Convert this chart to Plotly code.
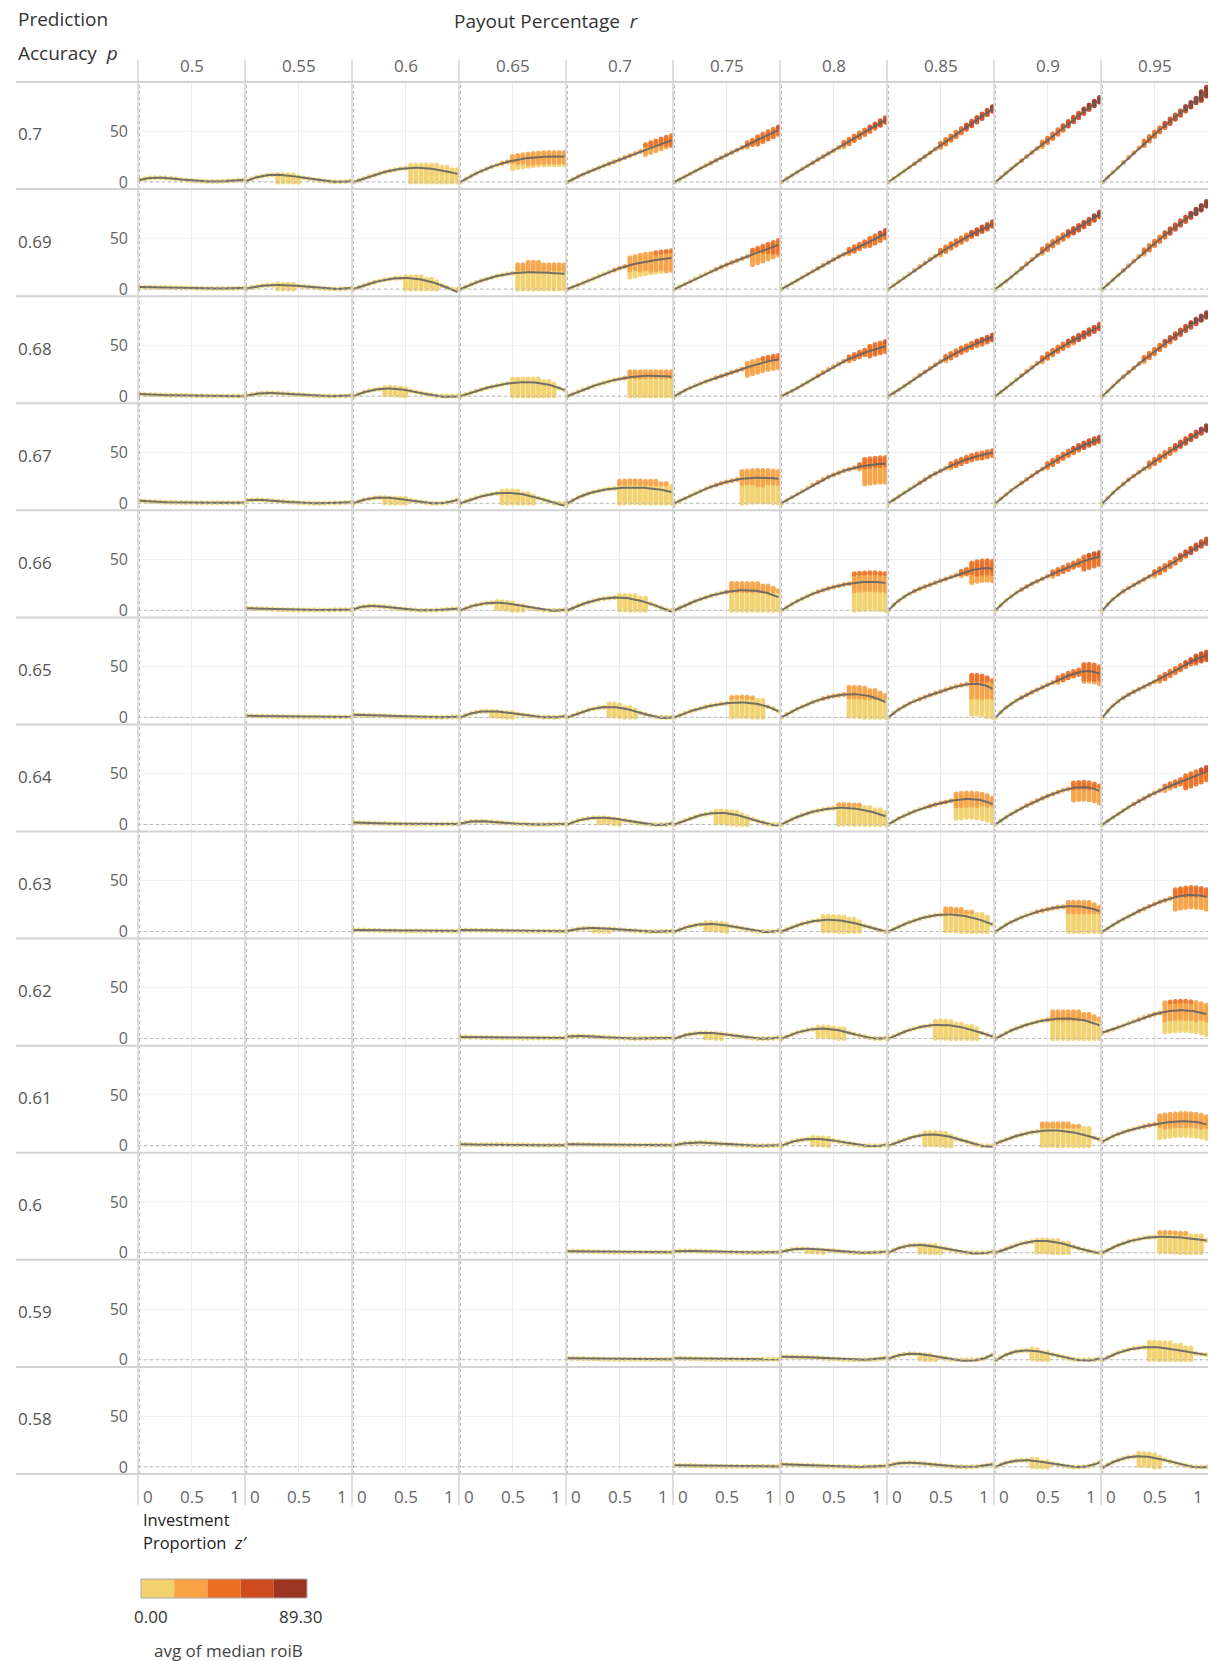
import numpy as np
import plotly.graph_objects as go
from plotly.subplots import make_subplots

# ---------------------------------------------------------------------------
# Facet layout: rows = prediction accuracy p, columns = payout percentage r
# ---------------------------------------------------------------------------
P_LABELS = ["0.7", "0.69", "0.68", "0.67", "0.66", "0.65", "0.64",
            "0.63", "0.62", "0.61", "0.6", "0.59", "0.58"]
R_LABELS = ["0.5", "0.55", "0.6", "0.65", "0.7", "0.75", "0.8", "0.85", "0.9", "0.95"]

# investment proportion z' at which the simulations were evaluated
Z_STEPS = [0.0, 0.05, 0.1, 0.15, 0.2, 0.25, 0.3, 0.35, 0.4, 0.45, 0.5,
           0.55, 0.6, 0.65, 0.7, 0.75, 0.8, 0.85, 0.9, 0.95, 1.0]
# knots of the trend curve (median roiB) in each panel
Z_KNOTS = [0.0, 0.25, 0.5, 0.75, 1.0]

# trend values at Z_KNOTS, one entry per r (None = no simulation for that pair)
TREND_070 = [[2, 4, 1.5, 0.5, 2], [1, 7, 5, 1, 1], [0, 8.5, 13.5, 13, 8], [0, 13, 21, 24.5, 25],
             [0, 12, 22, 32, 41], [0, 13.5, 26.5, 39, 51], [0, 16, 31, 46, 61],
             [0, 18, 36, 54, 72], [0, 21, 41, 61.5, 81], [0, 24, 47, 68, 89]]
TREND_069 = [[2, 1.5, 1, 0.5, 1], [0.5, 4, 3, 0.5, 1], [0, 8, 11, 7, -3], [0, 10, 15.5, 16.5, 15],
             [0, 10.5, 20.5, 27, 30.5], [0, 12.5, 24, 34, 43.5], [0, 14.5, 29, 42, 54.5],
             [0, 18.5, 36, 51, 64], [0, 20.5, 41, 57.5, 73.5], [0, 23, 45, 65, 84]]
TREND_068 = [[2, 1, 0.5, 0, 0], [0.5, 3, 1.5, 0, 0.5], [0, 7, 6, 1, 0], [0, 8, 13, 13, 6],
             [0, 10, 17, 20, 19], [0, 12.5, 21.5, 30, 36], [0, 14, 29, 41, 49],
             [0, 17, 34, 47.5, 58.5], [0, 20.5, 39.5, 55, 68.5], [0, 23.5, 44, 63, 80]]
TREND_067 = [[2.5, 1, 0.5, 0.5, 0.5], [3, 2.5, 0.5, 0, 1], [0, 5.5, 3.5, 0, 3.5], [0, 8, 10, 5, -2.5],
             [0, 11, 15, 15, 11], [0, 12, 21, 25, 24], [0, 15, 28, 36, 39],
             [0, 17, 32, 43, 50], [0, 20, 37, 52, 63], [0, 23, 41, 58, 74]]
TREND_066 = [None, [2, 1, 0.3, 0.3, 0.5], [1, 4, 1, 0, 1.5], [0, 7, 6, 1, 0.5],
             [0, 9.5, 12.5, 8, -1.5], [0, 11, 18, 19.5, 13], [0, 14, 23, 27.5, 27],
             [0, 19, 29, 38, 41], [0, 20.5, 33.5, 44.5, 53], [0, 22, 36, 52, 68]]
TREND_065 = [None, [1.5, 1, 0.5, 0.3, 0.3], [2.5, 1.5, 0.5, 0, 0.5], [0, 6, 4, 0.5, 1],
             [0, 8.5, 9.5, 3, 0], [0, 9, 14, 14, 6], [0, 13, 21, 22.5, 15],
             [0, 16, 25.5, 32.5, 28], [0, 19.5, 32, 43, 43], [0, 22.5, 35, 49, 61]]
TREND_064 = [None, None, [2, 1, 0.5, 0.3, 0.5], [1, 3, 1, 0, 0.5],
             [0, 6.5, 5, 0.5, 1], [0, 9, 11, 5, -1], [0, 11, 16, 15, 8],
             [0, 13, 21, 25, 20], [0, 16, 28, 36, 33], [0, 17, 31, 42, 52]]
TREND_063 = [None, None, [1.5, 1, 0.5, 0.5, 0.5], [1.5, 1, 0.5, 0.3, 0.3],
             [0.5, 3.5, 2, 0, 0.5], [0, 7, 6, 1, 1], [0, 9, 11.5, 7, 0],
             [0, 11, 16.5, 15, 7], [0, 14, 22, 25, 20], [0, 15, 27, 35, 34]]
TREND_062 = [None, None, None, [1.5, 1, 0.5, 0.5, 0.5],
             [2, 2, 0.5, 0.3, 0.5], [0, 5.5, 4, 0.5, 1], [0, 8.5, 9, 3, 0.5],
             [0, 10, 13.5, 10, 2], [0, 12, 18.5, 19.5, 13], [6, 15, 24, 28, 24]]
TREND_061 = [None, None, None, [1.5, 1, 1, 0.5, 0.5],
             [1.5, 1, 0.5, 0.5, 0.5], [0.5, 3, 1.5, 0, 0.5], [0, 6.5, 5, 0.5, 1],
             [0, 9, 10.5, 4, -1], [2, 11, 15, 13, 6], [4, 15, 21, 24, 21]]
TREND_060 = [None, None, None, None,
             [1.5, 1, 0.5, 0.5, 0.5], [1.5, 1.5, 0.5, 0.3, 0.5], [1, 4, 2, 0, 1],
             [0, 7.5, 5, 0, 1], [0, 9, 11.5, 6, 0], [0, 11, 15.5, 15, 12]]
TREND_059 = [None, None, None, None,
             [1.5, 1, 0.5, 0.5, 0.5], [1.5, 1, 0.5, 0.5, 0.5], [3, 2.5, 1, 0, 2],
             [1, 6, 2.5, -1, 5], [-1, 9, 6.5, 0.5, 1], [0, 10, 12.5, 9, 5]]
TREND_058 = [None, None, None, None, None,
             [1.5, 1, 0.5, 0.5, 0.5], [2.5, 1.5, 0.5, 0, 1],
             [1.5, 4, 1.5, 0, 2.5], [0, 6.5, 4, 0, 4.5], [-1, 9.5, 9, 2.5, 0]]

# dispersion of the simulated medians: [z' from, z' to, above trend, below trend]
SPREAD_070 = [None, [0.3, 0.5, 2, 8], [0.55, 1.0, 5, 16], [0.5, 1.0, 6, 8],
              [0.75, 1.0, 5, 5], [0.8, 1.0, 4, 4], None, None, None, None]
SPREAD_069 = [None, [0.3, 0.45, 2, 4], [0.5, 0.8, 3, 13], [0.55, 1.0, 10, 18],
              [0.6, 1.0, 8, 12], [0.75, 1.0, 5, 10], [0.85, 1.0, 4, 4], None, None, None]
SPREAD_068 = [None, None, [0.3, 0.5, 2, 6], [0.5, 0.9, 4, 14],
              [0.6, 1.0, 6, 20], [0.7, 1.0, 6, 8], [0.85, 1.0, 5, 5], [0.9, 1.0, 3, 3], None, None]
SPREAD_067 = [None, None, [0.3, 0.5, 2, 5], [0.4, 0.7, 3, 10],
              [0.5, 1.0, 8, 15], [0.65, 1.0, 9, 24], [0.8, 1.0, 6, 18], [0.9, 1.0, 3, 3], None, None]
SPREAD_066 = [None, None, None, [0.35, 0.6, 2, 6],
              [0.5, 0.75, 4, 12], [0.55, 1.0, 8, 20], [0.7, 1.0, 10, 27],
              [0.8, 1.0, 8, 12], [0.85, 1.0, 5, 8], None]
SPREAD_065 = [None, None, None, [0.3, 0.5, 2, 5],
              [0.4, 0.65, 3, 9], [0.55, 0.85, 6, 14], [0.65, 1.0, 8, 22],
              [0.8, 1.0, 10, 30], [0.85, 1.0, 8, 10], [0.9, 1.0, 4, 4]]
SPREAD_064 = [None, None, None, None,
              [0.3, 0.5, 2, 5], [0.4, 0.7, 3, 10], [0.55, 1.0, 5, 16],
              [0.65, 1.0, 8, 18], [0.75, 1.0, 6, 12], [0.8, 1.0, 6, 8]]
SPREAD_063 = [None, None, None, None,
              [0.25, 0.4, 1, 3], [0.3, 0.5, 2, 6], [0.4, 0.75, 4, 11],
              [0.55, 0.95, 6, 16], [0.7, 1.0, 6, 25], [0.7, 1.0, 8, 12]]
SPREAD_062 = [None, None, None, None,
              None, [0.3, 0.45, 1, 5], [0.35, 0.6, 3, 8],
              [0.45, 0.85, 4, 13], [0.55, 1.0, 8, 20], [0.6, 1.0, 10, 20]]
SPREAD_061 = [None, None, None, None,
              None, None, [0.3, 0.45, 2, 6],
              [0.35, 0.6, 3, 10], [0.45, 0.9, 8, 15], [0.55, 1.0, 8, 14]]
SPREAD_060 = [None, None, None, None,
              None, None, [0.25, 0.4, 1, 3],
              [0.3, 0.5, 2, 7], [0.4, 0.7, 3, 11], [0.55, 0.95, 5, 15]]
SPREAD_059 = [None, None, None, None,
              None, None, None,
              [0.3, 0.45, 1, 5], [0.35, 0.5, 2, 8], [0.45, 0.85, 6, 12]]
SPREAD_058 = [None, None, None, None,
              None, None, None,
              None, [0.35, 0.5, 2, 6], [0.35, 0.55, 3, 9]]

TREND_ROWS = [TREND_070, TREND_069, TREND_068, TREND_067, TREND_066, TREND_065, TREND_064,
              TREND_063, TREND_062, TREND_061, TREND_060, TREND_059, TREND_058]
SPREAD_ROWS = [SPREAD_070, SPREAD_069, SPREAD_068, SPREAD_067, SPREAD_066, SPREAD_065, SPREAD_064,
               SPREAD_063, SPREAD_062, SPREAD_061, SPREAD_060, SPREAD_059, SPREAD_058]

# colour legend: avg of median roiB, 5 stepped bins
ROI_MIN, ROI_MAX = 0.0, 89.30
STEP_COLORS = ["#F2D26E", "#F6A245", "#EC7024", "#CD4B1F", "#9C3622"]

N_ROWS, N_COLS = len(P_LABELS), len(R_LABELS)
W, H = 1210, 1661
PL, PR, PT, PB = 138, 2, 82, 187
PW, PH = W - PL - PR, H - PT - PB
X_RANGE = [-0.015, 1.015]
Y_RANGE = [-7, 98.5]
FONT = "Open Sans, Lato, DejaVu Sans, sans-serif"


def fx(px):
    return (px - PL) / PW


def fy(py):
    return 1 - (py - PT) / PH


def step_color(v):
    k = int((v - ROI_MIN) / (ROI_MAX - ROI_MIN) * len(STEP_COLORS))
    return STEP_COLORS[min(max(k, 0), len(STEP_COLORS) - 1)]


def axis_ref(letter, n):
    return letter if n == 1 else f"{letter}{n}"


fig = make_subplots(rows=N_ROWS, cols=N_COLS, horizontal_spacing=0, vertical_spacing=0)

z_fine = np.linspace(0, 1, 61)
for i in range(N_ROWS):
    for j in range(N_COLS):
        knots = TREND_ROWS[i][j]
        if knots is None:
            # keep the empty panel's axes and grid on screen
            fig.add_trace(go.Scatter(x=[None], y=[None], mode="markers", hoverinfo="skip",
                                     showlegend=False), row=i + 1, col=j + 1)
            continue
        coef = np.polyfit(Z_KNOTS, knots, 4)
        centers = np.polyval(coef, Z_STEPS)
        spread = SPREAD_ROWS[i][j]
        xs, ys = [], []
        for z, c in zip(Z_STEPS, centers):
            base = max(float(c), 0.0)
            if spread is not None and spread[0] - 1e-9 <= z <= spread[1] + 1e-9:
                lo = max(base - spread[3], 0.0)
                vals = np.arange(lo, base + spread[2] + 1e-6, 2.4)
            else:
                n = int((0.6 + 0.045 * base) // 2.2)
                vals = np.clip(base + 2.2 * np.arange(-n, n + 1), 0, None)
            xs.extend([z] * len(vals))
            ys.extend(vals.tolist())
        fig.add_trace(go.Scatter(
            x=xs, y=ys, mode="markers",
            marker=dict(size=5, color=[step_color(v) for v in ys], opacity=0.9, line=dict(width=0)),
            hoverinfo="skip", showlegend=False), row=i + 1, col=j + 1)
        fig.add_trace(go.Scatter(
            x=z_fine, y=np.polyval(coef, z_fine), mode="lines",
            line=dict(color="rgba(100,100,100,0.9)", width=2),
            hoverinfo="skip", showlegend=False), row=i + 1, col=j + 1)

fig.update_xaxes(range=X_RANGE, tickvals=[0.5], showticklabels=False, showgrid=True,
                 gridcolor="#ececec", gridwidth=1, zeroline=False, showline=False, ticks="")
fig.update_yaxes(range=Y_RANGE, tickvals=[0, 50], ticktext=["0", "50"], showticklabels=False,
                 showgrid=True, gridcolor="#f0f0f0", gridwidth=1, zeroline=False, showline=False, ticks="")
fig.update_yaxes(showticklabels=True, ticklabelstandoff=9,
                 tickfont=dict(family=FONT, size=16, color="#666666"), col=1)

shapes = []
# dotted zero lines: x = 0 in every column, y = 0 in every row
for j in range(N_COLS):
    shapes.append(dict(type="line", xref=axis_ref("x", j + 1), yref="paper", x0=0, x1=0, y0=0, y1=1,
                       line=dict(color="#b8b8b8", width=1, dash="dot")))
for i in range(N_ROWS):
    n = i * N_COLS + N_COLS
    shapes.append(dict(type="line", xref="paper", yref=axis_ref("y", n), x0=0, x1=1, y0=0, y1=0,
                       line=dict(color="#b8b8b8", width=1, dash="dot")))
# pane borders
for j in range(N_COLS):
    shapes.append(dict(type="line", xref="paper", yref="paper", x0=j / N_COLS, x1=j / N_COLS,
                       y0=fy(1505), y1=fy(60), line=dict(color="#cccccc", width=1.3)))
for i in range(N_ROWS + 1):
    shapes.append(dict(type="line", xref="paper", yref="paper", x0=fx(16), x1=1,
                       y0=1 - i / N_ROWS, y1=1 - i / N_ROWS, line=dict(color="#d3d3d3", width=2)))
# stepped colour legend
sw_x0, sw_x1, sw_y0, sw_y1 = 141, 307, 1579, 1598
sw = (sw_x1 - sw_x0) / len(STEP_COLORS)
for k, col in enumerate(STEP_COLORS):
    shapes.append(dict(type="rect", xref="paper", yref="paper",
                       x0=fx(sw_x0 + k * sw), x1=fx(sw_x0 + (k + 1) * sw), y0=fy(sw_y1), y1=fy(sw_y0),
                       fillcolor=col, line=dict(width=0)))
shapes.append(dict(type="rect", xref="paper", yref="paper", x0=fx(sw_x0), x1=fx(sw_x1),
                   y0=fy(sw_y1), y1=fy(sw_y0), line=dict(color="#aaaaaa", width=1)))

ann = []


def text(s, x, y, size=16, color="#666666", xanchor="center"):
    ann.append(dict(text=s, x=x, y=y, xref="paper", yref="paper", showarrow=False,
                    xanchor=xanchor, yanchor="middle", font=dict(family=FONT, size=size, color=color)))


text("Prediction", fx(16), fy(19), 19, "#333333", "left")
text("Accuracy  <i>p</i>", fx(16), fy(53), 19, "#333333", "left")
text("Payout Percentage  <i>r</i>", fx(546), fy(21), 19, "#333333")
for j, lab in enumerate(R_LABELS):
    text(lab, (j + 0.5) / N_COLS, fy(66), 17)
    left = PL + j * PW / N_COLS
    text("0", fx(left + 3), fy(1496), 17, "#666666", "left")
    text("0.5", fx(left + PW / N_COLS / 2), fy(1496), 17)
    text("1", fx(left + PW / N_COLS - 3), fy(1496), 17, "#666666", "right")
for i, lab in enumerate(P_LABELS):
    text(lab, fx(16), fy(PT + i * PH / N_ROWS + 52), 17, "#555555", "left")
text("Investment", fx(141), fy(1520), 16.5, "#222222", "left")
text("Proportion  <i>z′</i>", fx(141), fy(1542), 16.5, "#222222", "left")
text(f"{ROI_MIN:.2f}", fx(151), fy(1616), 17, "#333333")
text(f"{ROI_MAX:.2f}", fx(300), fy(1616), 17, "#333333")
text("avg of median roiB", fx(228), fy(1650), 17, "#444444")

fig.update_layout(width=W, height=H, margin=dict(l=PL, r=PR, t=PT, b=PB),
                  plot_bgcolor="white", paper_bgcolor="white", showlegend=False,
                  shapes=shapes, annotations=ann, font=dict(family=FONT))
fig.write_html("out.html")
